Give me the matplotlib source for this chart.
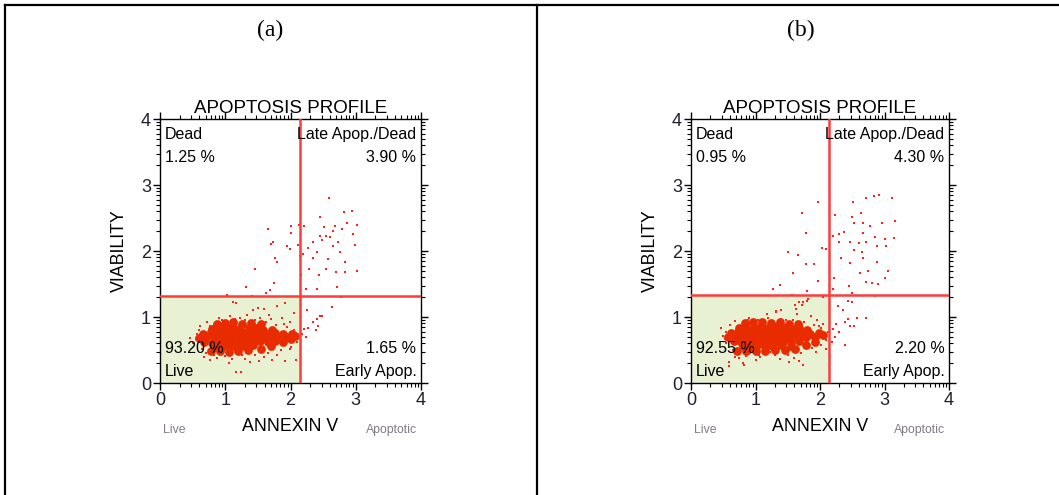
import numpy as np
import matplotlib
matplotlib.use("Agg")
import matplotlib.pyplot as plt
from matplotlib.lines import Line2D

plt.rcParams['font.family'] = ['Liberation Sans', 'DejaVu Sans']

# panel labels and quadrant percentages
panel_names = ['(a)', '(b)']
quad_names = ['Dead', 'Late Apop./Dead', 'Live', 'Early Apop.']
pct_a = ['1.25 %', '3.90 %', '93.20 %', '1.65 %']
pct_b = ['0.95 %', '4.30 %', '92.55 %', '2.20 %']

# quadrant gate positions (log decades)
gate_x = [2.15, 2.14]
gate_y = [1.32, 1.33]

# dense live population (a)
a_core = [(0.88, 0.90), (1.00, 0.91), (1.12, 0.92), (1.25, 0.90), (1.40, 0.91), (1.55, 0.89),
          (0.80, 0.82), (0.92, 0.84), (1.02, 0.83), (1.12, 0.85), (1.22, 0.82), (1.36, 0.84),
          (1.47, 0.83), (1.58, 0.81), (1.72, 0.80),
          (0.66, 0.75), (0.78, 0.77), (0.90, 0.76), (1.00, 0.78), (1.10, 0.76), (1.20, 0.77),
          (1.31, 0.76), (1.41, 0.78), (1.52, 0.77), (1.63, 0.75), (1.76, 0.76), (1.89, 0.74), (2.02, 0.75),
          (0.60, 0.68), (0.71, 0.70), (0.82, 0.69), (0.93, 0.70), (1.04, 0.68), (1.14, 0.70),
          (1.25, 0.69), (1.35, 0.70), (1.46, 0.71), (1.57, 0.69), (1.68, 0.70), (1.80, 0.68),
          (1.93, 0.70), (2.07, 0.71),
          (0.68, 0.62), (0.79, 0.61), (0.90, 0.63), (1.01, 0.62), (1.11, 0.61), (1.22, 0.63),
          (1.33, 0.62), (1.43, 0.64), (1.54, 0.63), (1.65, 0.62), (1.77, 0.64),
          (0.84, 0.55), (0.95, 0.54), (1.06, 0.56), (1.17, 0.55), (1.29, 0.56), (1.42, 0.57),
          (0.78, 0.49), (0.92, 0.48), (1.05, 0.47), (1.20, 0.49), (1.35, 0.50), (1.55, 0.51),
          (1.70, 0.56), (1.88, 0.62), (2.00, 0.66)]

# single events (a)
a_dots = [(2.59, 2.81), (2.94, 2.61), (2.82, 2.59), (2.45, 2.52), (1.65, 2.34), (2.01, 2.38),
          (2.13, 2.39), (2.20, 2.38), (2.86, 2.43), (3.02, 2.39), (2.68, 2.38), (2.52, 2.36),
          (2.00, 2.28), (2.65, 2.31), (2.79, 2.34), (2.96, 2.26), (1.73, 2.13), (1.70, 2.11),
          (2.12, 2.09), (2.35, 2.13), (2.48, 2.16), (2.55, 2.23), (2.60, 2.21), (2.45, 2.23),
          (2.65, 2.08), (2.73, 2.13), (1.99, 2.03), (1.94, 2.08), (2.27, 2.04), (2.40, 1.98),
          (2.76, 1.99), (2.99, 2.09), (1.77, 1.90), (1.79, 1.83), (2.19, 1.95), (2.58, 1.88),
          (2.83, 1.83), (2.35, 1.90), (2.14, 1.93), (1.45, 1.73), (2.28, 1.73), (2.55, 1.73),
          (2.69, 1.68), (2.84, 1.68), (3.02, 1.70), (2.44, 1.64), (2.16, 1.63), (1.74, 1.52),
          (1.32, 1.46), (1.68, 1.41), (2.24, 1.43), (2.41, 1.43), (2.71, 1.46), (2.77, 1.30),
          (1.62, 1.36), (2.63, 1.15), (2.26, 1.10), (2.45, 1.02), (2.40, 0.97), (2.35, 0.93),
          (2.42, 0.87), (2.48, 1.02), (2.20, 0.82), (2.27, 0.84), (2.17, 0.74), (2.24, 0.69),
          (2.39, 0.81), (1.41, 1.32), (1.02, 1.33), (1.12, 1.22),
          (1.17, 1.21), (1.50, 1.13), (1.59, 1.12), (1.80, 1.16), (1.92, 1.21), (1.42, 1.11),
          (1.08, 1.01), (0.90, 0.98), (0.76, 0.86), (0.62, 0.86), (0.46, 0.68), (0.51, 0.60),
          (0.87, 0.38), (1.05, 0.30), (1.17, 0.16), (1.24, 0.16), (1.51, 0.33), (1.72, 0.35),
          (1.92, 0.33), (2.08, 0.35), (1.59, 0.40), (1.99, 0.52), (2.06, 1.06), (1.99, 0.93),
          (0.77, 0.35), (0.67, 0.40), (1.31, 0.37), (1.38, 0.32), (1.80, 0.42), (1.67, 1.03),
          (1.87, 0.98), (1.23, 0.99), (1.33, 1.03), (1.54, 0.98), (1.03, 0.93), (0.62, 0.70),
          (0.56, 0.74), (0.59, 0.63),
          (0.72, 0.93), (0.95, 0.96), (1.15, 0.97), (1.45, 0.95), (1.62, 0.92), (1.78, 0.88),
          (1.95, 0.85), (2.05, 0.80), (2.10, 0.62), (2.00, 0.55), (1.85, 0.50), (1.65, 0.45),
          (1.45, 0.43), (1.25, 0.42), (1.00, 0.41), (0.82, 0.43), (0.65, 0.52), (0.55, 0.66),
          (0.60, 0.80), (1.30, 0.95), (1.70, 0.97), (0.70, 0.45), (1.10, 0.36), (1.90, 0.90),
          (2.12, 0.72)]

# dense live population (b)
b_core = [(0.84, 0.91), (0.96, 0.92), (1.10, 0.93), (1.24, 0.91), (1.38, 0.92), (1.52, 0.90),
          (1.66, 0.89),
          (0.75, 0.83), (0.86, 0.85), (0.97, 0.84), (1.08, 0.86), (1.19, 0.83), (1.32, 0.85),
          (1.44, 0.84), (1.56, 0.82), (1.68, 0.83), (1.80, 0.80),
          (0.62, 0.76), (0.73, 0.78), (0.84, 0.77), (0.95, 0.78), (1.05, 0.76), (1.16, 0.77),
          (1.27, 0.78), (1.38, 0.77), (1.49, 0.76), (1.60, 0.78), (1.72, 0.76), (1.85, 0.75), (1.98, 0.76),
          (0.58, 0.69), (0.69, 0.70), (0.80, 0.71), (0.91, 0.69), (1.02, 0.70), (1.12, 0.71),
          (1.23, 0.69), (1.34, 0.70), (1.45, 0.70), (1.56, 0.71), (1.67, 0.69), (1.79, 0.70),
          (1.92, 0.69), (2.05, 0.72),
          (0.66, 0.63), (0.77, 0.62), (0.88, 0.64), (0.99, 0.63), (1.10, 0.62), (1.21, 0.63),
          (1.32, 0.64), (1.43, 0.62), (1.55, 0.63), (1.67, 0.64),
          (0.80, 0.56), (0.91, 0.55), (1.02, 0.57), (1.14, 0.55), (1.26, 0.56), (1.40, 0.57), (1.55, 0.56),
          (0.72, 0.49), (0.86, 0.48), (1.00, 0.49), (1.14, 0.48), (1.30, 0.50), (1.46, 0.50),
          (1.62, 0.52), (1.78, 0.58), (1.92, 0.62)]

# single events (b)
b_dots = [(1.97, 2.75), (2.71, 2.81), (2.84, 2.83), (2.92, 2.85), (3.11, 2.80), (2.51, 2.75),
          (1.72, 2.58), (2.24, 2.55), (2.64, 2.58), (2.49, 2.51), (2.78, 2.38), (2.66, 2.43),
          (2.52, 2.42), (3.17, 2.46), (2.96, 2.43), (2.37, 2.29), (1.78, 2.27), (2.20, 2.23),
          (2.30, 2.26), (2.67, 2.28), (2.85, 2.21), (3.01, 2.18), (3.14, 2.19), (2.46, 2.13),
          (2.61, 2.12), (2.72, 2.13), (2.29, 2.13), (2.10, 2.03), (2.03, 2.04), (2.52, 2.01),
          (2.88, 2.08), (3.03, 2.08), (2.65, 1.98), (1.51, 1.98), (1.66, 1.94), (1.90, 1.81),
          (1.78, 1.81), (2.33, 1.89), (2.46, 1.82), (2.67, 1.90), (2.89, 1.83), (2.74, 1.70),
          (3.05, 1.69), (3.00, 1.59), (1.58, 1.66), (1.97, 1.54), (2.22, 1.59), (2.62, 1.66),
          (2.72, 1.53), (2.80, 1.51), (2.90, 1.50), (2.45, 1.47), (2.20, 1.43), (1.38, 1.48),
          (1.27, 1.43), (1.80, 1.39), (2.50, 1.36), (2.85, 1.32), (1.57, 1.33), (2.05, 1.30),
          (2.28, 1.17), (2.43, 1.25), (2.50, 1.22), (2.36, 1.10), (2.57, 0.99), (2.71, 0.99),
          (2.44, 0.97), (2.25, 0.89), (2.38, 0.92), (2.20, 0.82), (2.30, 0.77), (2.23, 0.69),
          (2.39, 0.57), (2.47, 0.86), (2.52, 0.86), (2.18, 0.62), (1.80, 1.24), (1.72, 1.18),
          (1.63, 1.12), (1.40, 1.10), (1.32, 1.07),
          (1.18, 1.04), (1.32, 1.09), (1.62, 1.18), (1.67, 1.22), (1.74, 1.23), (1.82, 1.28),
          (1.64, 1.04), (1.47, 0.96), (1.04, 0.96), (0.88, 0.96), (0.47, 0.83), (0.61, 0.88),
          (0.59, 0.32), (0.68, 0.40), (0.81, 0.30), (1.07, 0.40), (1.38, 0.37), (1.52, 0.32),
          (1.67, 0.33), (1.94, 0.47), (2.09, 0.52), (1.22, 0.47), (0.91, 0.45), (1.86, 1.01),
          (1.99, 0.86), (2.05, 0.90), (0.55, 0.61), (0.50, 0.71), (0.59, 0.26), (0.82, 0.27),
          (1.73, 0.27),
          (0.68, 0.94), (0.90, 0.98), (1.20, 0.99), (1.40, 0.97), (1.58, 0.95), (1.75, 0.92),
          (1.90, 0.88), (2.02, 0.83), (2.10, 0.65), (2.02, 0.58), (1.88, 0.53), (1.70, 0.46),
          (1.50, 0.43), (1.30, 0.42), (1.05, 0.42), (0.85, 0.41), (0.65, 0.50), (0.52, 0.66),
          (0.55, 0.78), (1.00, 0.35), (1.95, 0.95), (2.12, 0.78), (0.75, 0.38), (1.60, 0.38)]

W, H = 1059, 495
fig = plt.figure(figsize=(W / 100, H / 100), dpi=100)
fig.patch.set_facecolor('white')

# table frame
def px_line(x0, y0, x1, y1):
    fig.add_artist(Line2D([x0 / W, x1 / W], [1 - y0 / H, 1 - y1 / H],
                          transform=fig.transFigure, color='black', lw=1.6))

px_line(5, 5, W, 5)
px_line(5, 5, 5, H)
px_line(537, 5, 537, H)


def draw_panel(ax, core, dots, pct, gx, gy):
    ax.set_xlim(0, 4)
    ax.set_ylim(0, 4)
    # live quadrant shading
    ax.axvspan(0, gx, ymin=0, ymax=gy / 4, color='#e8f1d2', zorder=0, lw=0)
    cx = [p[0] for p in core]
    cy = [p[1] for p in core]
    ax.scatter(cx, cy, s=40, marker='o', color='#e92b00', linewidths=0, zorder=2)
    dx = [p[0] for p in dots]
    dy = [p[1] for p in dots]
    ax.scatter(dx, dy, s=2.6, marker='s', color='#ff2020', linewidths=0, zorder=3)
    ax.axvline(gx, color='#ff3b3b', lw=1.8, zorder=4)
    ax.axhline(gy, color='#ff3b3b', lw=1.8, zorder=4)

    # log-decade ticks
    minor = [d + np.log10(k) for d in range(4) for k in range(2, 10)]
    ax.set_xticks(range(5))
    ax.set_yticks(range(5))
    ax.set_xticks(minor, minor=True)
    ax.set_yticks(minor, minor=True)
    ax.tick_params(which='major', length=5, width=1, labelsize=13, direction='out',
                   labelcolor='#202030', pad=1.5)
    ax.tick_params(which='minor', length=3, width=0.8, direction='out')
    ax.tick_params(which='both', top=True, right=True)
    for s in ax.spines.values():
        s.set_linewidth(1.0)

    ax.set_title('APOPTOSIS PROFILE', fontsize=13.5, pad=4)
    ax.set_ylabel('VIABILITY', fontsize=12.8, labelpad=9)
    ax.text(2.0, -0.53, 'ANNEXIN V', ha='center', va='top', fontsize=12.8)
    ax.text(0.22, -0.62, 'Live', ha='center', va='top', fontsize=8.8, color='#85788a')
    ax.text(3.55, -0.62, 'Apoptotic', ha='center', va='top', fontsize=8.8, color='#85788a')

    fs = 11.5
    ax.text(0.07, 3.77, quad_names[0], ha='left', va='center', fontsize=fs, zorder=5)
    ax.text(0.07, 3.42, pct[0], ha='left', va='center', fontsize=fs, zorder=5)
    ax.text(3.93, 3.77, quad_names[1], ha='right', va='center', fontsize=fs, zorder=5)
    ax.text(3.93, 3.42, pct[1], ha='right', va='center', fontsize=fs, zorder=5)
    ax.text(0.07, 0.53, pct[2], ha='left', va='center', fontsize=fs, zorder=5)
    ax.text(0.07, 0.18, quad_names[2], ha='left', va='center', fontsize=fs, zorder=5)
    ax.text(3.93, 0.53, pct[3], ha='right', va='center', fontsize=fs, zorder=5)
    ax.text(3.93, 0.18, quad_names[3], ha='right', va='center', fontsize=fs, zorder=5)


ax_a = fig.add_axes([160 / W, 1 - 383 / H, 261 / W, 264 / H])
ax_b = fig.add_axes([691 / W, 1 - 383 / H, 258 / W, 264 / H])
draw_panel(ax_a, a_core, a_dots, pct_a, gate_x[0], gate_y[0])
draw_panel(ax_b, b_core, b_dots, pct_b, gate_x[1], gate_y[1])

fig.text(270 / W, 1 - 30 / H, panel_names[0], ha='center', va='center', fontsize=17,
         family=['Liberation Serif', 'DejaVu Serif'])
fig.text(801 / W, 1 - 30 / H, panel_names[1], ha='center', va='center', fontsize=17,
         family=['Liberation Serif', 'DejaVu Serif'])

fig.savefig('out.png', dpi=100)
